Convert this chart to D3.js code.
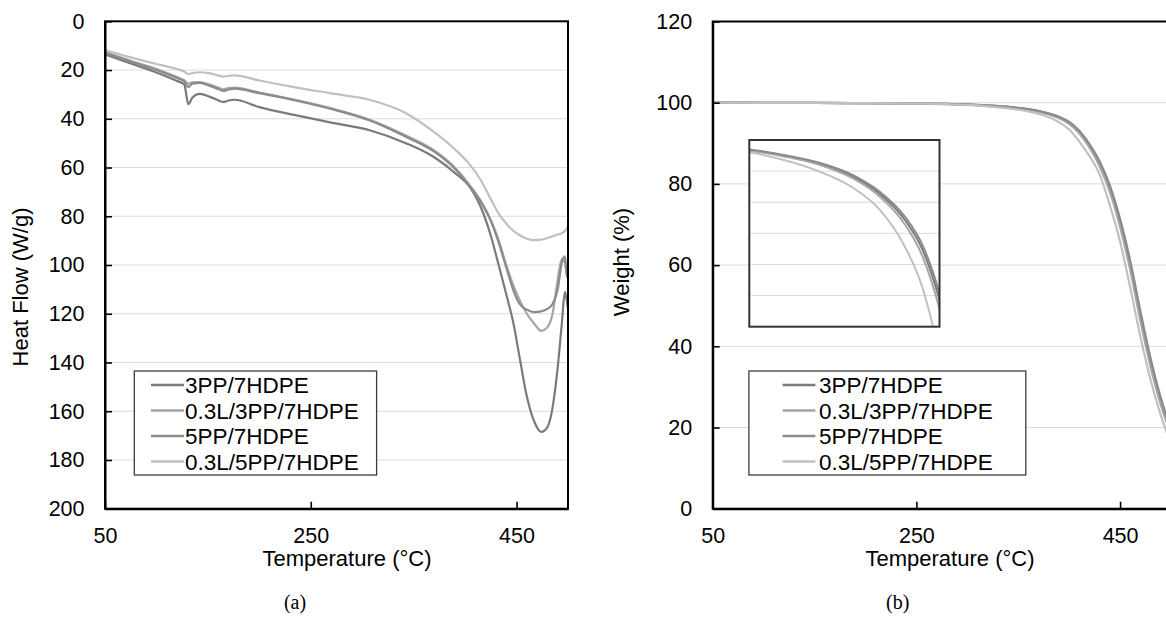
<!DOCTYPE html>
<html>
<head>
<meta charset="utf-8">
<script src="https://d3js.org/d3.v7.min.js"></script>
<style>
  body { margin: 0; background: #fff; }
  svg { display: block; }
  text { font-family: "Liberation Sans", Arial, sans-serif; fill: #000; }
</style>
</head>
<body>
<script>
// ---- data ----
var seriesNames = ["3PP/7HDPE", "0.3L/3PP/7HDPE", "5PP/7HDPE", "0.3L/5PP/7HDPE"];

var tempTicks = [50, 250, 450];
var heatTicks = [0, 20, 40, 60, 80, 100, 120, 140, 160, 180, 200];
var weightTicks = [0, 20, 40, 60, 80, 100, 120];

// (a) DSC, heat flow (W/g)
var dscTemp = [50, 75, 100, 120, 127, 131, 135, 142, 152, 160, 165, 170, 176, 200, 235, 270, 308, 343, 370, 390,
               405, 415, 425, 432, 440, 447, 453, 460, 467, 474, 480, 485, 490, 494, 497, 499, 500];
var dsc3PP    = [13.6, 17.3, 21.0, 24.5, 25.9, 34.0, 31.3, 29.8, 31.0, 32.4, 33.1, 32.5, 32.2, 35.2, 38.5, 41.6, 44.8, 50.1, 55.8, 62.2,
                 68.3, 76, 88, 99, 112, 124, 138, 154, 164, 168.5, 166.5, 158.5, 142, 124, 111, 115, 118];
var dsc03L3PP = [12.6, 16.2, 19.6, 22.9, 24.2, 25.6, 25.0, 24.9, 26.0, 27.2, 27.9, 27.4, 27.2, 29.2, 32.2, 35.7, 40.5, 47.0, 53.0, 60.0,
                 67.5, 73.5, 81.5, 89, 100, 108.5, 114.5, 120, 124, 127, 125.5, 120, 106, 97.5, 99, 104, 101];
var dsc5PP    = [13.0, 16.5, 20.0, 23.3, 24.6, 27.0, 25.6, 25.3, 26.5, 27.8, 28.6, 28.0, 27.6, 29.5, 32.5, 36.0, 40.8, 47.5, 53.5, 60.5,
                 68, 74, 82, 90, 101, 110.5, 116, 118.3, 119.3, 119, 118, 116, 110, 99, 96.5, 105, 100];
var dsc03L5PP = [11.8, 14.8, 17.5, 19.6, 20.6, 21.7, 21.2, 20.9, 21.4, 22.2, 22.7, 22.4, 22.2, 24.3, 27.1, 29.6, 32.3, 37.8, 45.5, 52.5,
                 59, 65, 73, 78.5, 83, 86, 87.8, 89.2, 89.8, 89.6, 88.9, 88.2, 87.5, 87, 86, 85, 84.3];

// (b) TGA, weight (%)
var tgaTemp = [50, 100, 150, 200, 250, 280, 300, 320, 340, 360, 375, 390, 400, 410, 420, 430, 440, 450, 460, 470, 480, 490, 500];
var tga3PP    = [100, 99.98, 99.95, 99.9, 99.8, 99.69, 99.55, 99.3, 98.95, 98.35, 97.6, 96.4, 95.1, 92.8, 89.4, 85.0, 78.9, 70.5, 60.0, 47.5, 36.0, 26.5, 19.0];
var tga03L3PP = [100, 99.98, 99.95, 99.9, 99.79, 99.67, 99.52, 99.26, 98.9, 98.27, 97.48, 96.2, 94.8, 92.4, 88.9, 84.3, 78.0, 69.4, 58.8, 46.2, 34.9, 25.6, 18.3];
var tga5PP    = [100, 99.98, 99.95, 99.9, 99.8, 99.7, 99.57, 99.33, 98.99, 98.42, 97.7, 96.55, 95.3, 93.1, 89.8, 85.5, 79.6, 71.4, 61.0, 48.6, 37.0, 27.3, 19.6];
var tga03L5PP = [100, 99.98, 99.95, 99.89, 99.77, 99.63, 99.45, 99.1, 98.6, 97.85, 96.9, 95.2, 93.4, 90.4, 86.8, 82.3, 74.7, 65.8, 54.4, 42.3, 31.7, 23.0, 16.0];

var insetGrid = [93, 94.4, 95.8, 97.2, 98.6];

// ---- drawing ----
var lineColors = ["#7a7a7a", "#a6a6a6", "#8b8b8b", "#c0c0c0"];
var dscSeries = [dsc3PP, dsc03L3PP, dsc5PP, dsc03L5PP];
var tgaSeries = [tga3PP, tga03L3PP, tga5PP, tga03L5PP];

var svg = d3.select("body").append("svg")
  .attr("width", 1166)
  .attr("height", 617);

function zipT(temps, vals) {
  return temps.map(function (t, i) { return [t, vals[i]]; });
}

function drawPanel(id, x, y, yTicks, series, temps) {
  var x0 = x.range()[0], x1 = x.range()[1];
  var yTop = d3.min(y.range()), yBot = d3.max(y.range());

  // gridlines
  svg.append("g").selectAll("line")
    .data(yTicks.slice(1, -1))
    .enter().append("line")
    .attr("x1", x0).attr("x2", x1)
    .attr("y1", function (d) { return y(d); })
    .attr("y2", function (d) { return y(d); })
    .attr("stroke", "#dcdcdc").attr("stroke-width", 1);

  svg.append("clipPath").attr("id", "clip-" + id)
    .append("rect").attr("x", x0).attr("y", yTop)
    .attr("width", x1 - x0).attr("height", yBot - yTop);

  var line = d3.line()
    .x(function (d) { return x(d[0]); })
    .y(function (d) { return y(d[1]); })
    .curve(d3.curveMonotoneX);

  svg.append("g").attr("clip-path", "url(#clip-" + id + ")")
    .selectAll("path")
    .data(series)
    .enter().append("path")
    .attr("d", function (s) { return line(zipT(temps, s)); })
    .attr("fill", "none")
    .attr("stroke", function (s, i) { return lineColors[i]; })
    .attr("stroke-width", 2.2);

  // plot frame
  svg.append("rect")
    .attr("x", x0).attr("y", yTop)
    .attr("width", x1 - x0).attr("height", yBot - yTop)
    .attr("fill", "none").attr("stroke", "#000").attr("stroke-width", 2);

  var gx = svg.append("g")
    .attr("transform", "translate(0," + yBot + ")")
    .call(d3.axisBottom(x).tickValues(tempTicks).tickSizeInner(-7).tickSizeOuter(0).tickPadding(19));
  var gy = svg.append("g")
    .attr("transform", "translate(" + x0 + ",0)")
    .call(d3.axisLeft(y).tickValues(yTicks).tickSizeInner(-7).tickSizeOuter(0).tickPadding(20.5));

  [gx, gy].forEach(function (g) {
    g.select(".domain").attr("stroke", "#000").attr("stroke-width", 2);
    g.selectAll(".tick line").attr("stroke", "#000").attr("stroke-width", 1.6);
    g.selectAll(".tick text").style("font-size", "21.5px").attr("fill", "#000")
      .style("font-family", '"Liberation Sans", Arial, sans-serif');
  });
}

function drawLegend(box, lx0, lx1, tx) {
  var g = svg.append("g");
  g.append("rect")
    .attr("x", box[0]).attr("y", box[1])
    .attr("width", box[2] - box[0]).attr("height", box[3] - box[1])
    .attr("fill", "#fff").attr("stroke", "#3c3c3c").attr("stroke-width", 1.3);
  seriesNames.forEach(function (name, i) {
    var cy = 385 + i * 25.5;
    g.append("line")
      .attr("x1", lx0).attr("x2", lx1).attr("y1", cy).attr("y2", cy)
      .attr("stroke", lineColors[i]).attr("stroke-width", 2.4);
    g.append("text")
      .attr("x", tx).attr("y", cy + 8)
      .style("font-size", "22.5px")
      .text(name);
  });
}

// (a) Heat flow, 0 at the top
var xL = d3.scaleLinear().domain([50, 500]).range([105, 568]);
var yL = d3.scaleLinear().domain([0, 200]).range([21.3, 508.7]);
drawPanel("a", xL, yL, heatTicks, dscSeries, dscTemp);
drawLegend([134.3, 371, 376.6, 475], 151, 184, 185);

// (b) Weight
var xR = d3.scaleLinear().domain([50, 500]).range([712.7, 1171]);
var yR = d3.scaleLinear().domain([0, 120]).range([508.7, 21.5]);
drawPanel("b", xR, yR, weightTicks, tgaSeries, tgaTemp);

// inset: close-up of the onset of weight loss
var xIn = d3.scaleLinear().domain([300, 410]).range([749.3, 939.5]);
var yIn = d3.scaleLinear().domain([91.6, 100]).range([326.7, 140]);
var inset = svg.append("g");
inset.append("rect")
  .attr("x", 749.3).attr("y", 140).attr("width", 190.2).attr("height", 186.7)
  .attr("fill", "#fff");
inset.selectAll("line.grid")
  .data(insetGrid).enter().append("line")
  .attr("class", "grid")
  .attr("x1", xIn(301)).attr("x2", xIn(410))
  .attr("y1", function (d) { return yIn(d); })
  .attr("y2", function (d) { return yIn(d); })
  .attr("stroke", "#dcdcdc").attr("stroke-width", 1);
svg.append("clipPath").attr("id", "clip-inset")
  .append("rect").attr("x", 749.3).attr("y", 140).attr("width", 190.2).attr("height", 186.7);
var insetLine = d3.line()
  .x(function (d) { return xIn(d[0]); })
  .y(function (d) { return yIn(d[1]); })
  .curve(d3.curveMonotoneX);
inset.append("g").attr("clip-path", "url(#clip-inset)")
  .selectAll("path")
  .data(tgaSeries).enter().append("path")
  .attr("d", function (s) { return insetLine(zipT(tgaTemp, s)); })
  .attr("fill", "none")
  .attr("stroke", function (s, i) { return lineColors[i]; })
  .attr("stroke-width", 2);
inset.append("rect")
  .attr("x", 749.3).attr("y", 140).attr("width", 190.2).attr("height", 186.7)
  .attr("fill", "none").attr("stroke", "#333").attr("stroke-width", 2);

drawLegend([748.9, 371, 1025.8, 475], 782.6, 815.4, 819);

// axis titles
svg.append("text")
  .attr("x", 347).attr("y", 566)
  .attr("text-anchor", "middle").style("font-size", "22px")
  .text("Temperature (°C)");
svg.append("text")
  .attr("x", 950).attr("y", 566)
  .attr("text-anchor", "middle").style("font-size", "22px")
  .text("Temperature (°C)");
svg.append("text")
  .attr("transform", "translate(28,287) rotate(-90)")
  .attr("text-anchor", "middle").style("font-size", "22px")
  .text("Heat Flow (W/g)");
svg.append("text")
  .attr("transform", "translate(629,262) rotate(-90)")
  .attr("text-anchor", "middle").style("font-size", "22px")
  .text("Weight (%)");

// captions
svg.append("text")
  .attr("x", 295).attr("y", 609)
  .attr("text-anchor", "middle")
  .style("font-family", '"Liberation Serif", "Times New Roman", serif')
  .style("font-size", "20px")
  .text("(a)");
svg.append("text")
  .attr("x", 897.7).attr("y", 609)
  .attr("text-anchor", "middle")
  .style("font-family", '"Liberation Serif", "Times New Roman", serif')
  .style("font-size", "20px")
  .text("(b)");
</script>
</body>
</html>
